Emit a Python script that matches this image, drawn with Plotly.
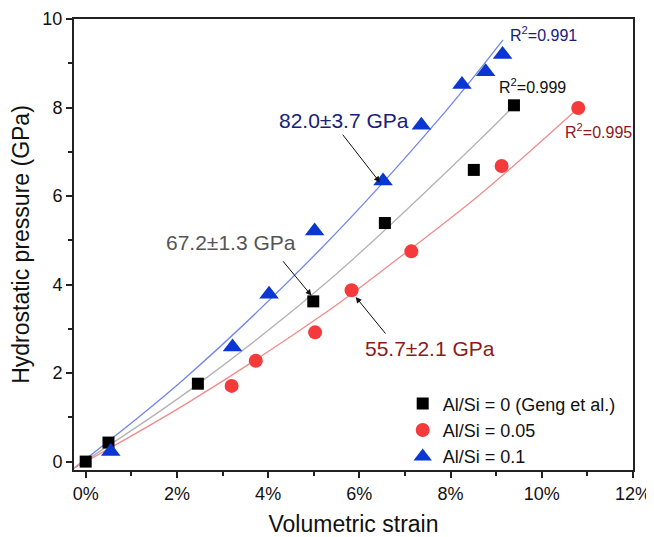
import plotly.graph_objects as go

# ---- data (strain in %, pressure in GPa) ----
strain_geng = [0.0, 0.50, 2.46, 4.99, 6.56, 8.51, 9.39]
p_geng = [0.0, 0.43, 1.76, 3.62, 5.39, 6.59, 8.05]

strain_005 = [3.20, 3.73, 5.03, 5.83, 7.14, 9.12, 10.80]
p_005 = [1.71, 2.28, 2.92, 3.87, 4.75, 6.68, 7.99]

strain_01 = [0.55, 3.22, 4.02, 5.02, 6.52, 7.36, 8.25, 8.77, 9.14]
p_01 = [0.23, 2.59, 3.78, 5.21, 6.34, 7.60, 8.52, 8.81, 9.20]

# fitted curves
fit_geng_x = [-0.26, 2.29, 5.35, 8.64, 9.37]
fit_geng_y = [-0.15, 1.62, 4.11, 7.27, 8.02]
fit_005_x = [-0.26, 2.29, 5.35, 6.52, 8.64, 10.80]
fit_005_y = [-0.15, 1.36, 3.43, 4.33, 6.03, 7.99]
fit_01_x = [-0.26, 2.14, 5.13, 7.73, 9.15]
fit_01_y = [-0.15, 1.85, 4.78, 7.72, 9.53]

series_names = ["Al/Si = 0 (Geng et al.)", "Al/Si = 0.05", "Al/Si = 0.1"]
x_ticks = [0, 2, 4, 6, 8, 10, 12]
y_ticks = [0, 2, 4, 6, 8, 10]

FONT = "Arial, Liberation Sans, sans-serif"
NAVY = "#17217a"
DARKRED = "#8b1a1a"
GRAYTXT = "#555555"

fig = go.Figure()

# fit lines
fig.add_trace(go.Scatter(x=fit_01_x, y=fit_01_y, mode="lines", line=dict(color="#7385ee", width=1.3, shape="spline"),
                         showlegend=False, hoverinfo="skip"))
fig.add_trace(go.Scatter(x=fit_geng_x, y=fit_geng_y, mode="lines", line=dict(color="#b3b3b3", width=1.3, shape="spline"),
                         showlegend=False, hoverinfo="skip"))
fig.add_trace(go.Scatter(x=fit_005_x, y=fit_005_y, mode="lines", line=dict(color="#f28c8c", width=1.3, shape="spline"),
                         showlegend=False, hoverinfo="skip"))

# data points
fig.add_trace(go.Scatter(x=strain_geng, y=p_geng, mode="markers", name=series_names[0],
                         marker=dict(symbol="square", size=12, color="#000000")))
fig.add_trace(go.Scatter(x=strain_005, y=p_005, mode="markers", name=series_names[1],
                         marker=dict(symbol="circle", size=14, color="#f43a3a")))
fig.add_trace(go.Scatter(x=strain_01, y=p_01, mode="markers", name=series_names[2],
                         marker=dict(symbol="triangle-up", size=17, color="#0a36d2")))

# arrows
arrows = [
    dict(x=6.45, y=6.31, ax=5.61, ay=7.42),
    dict(x=4.95, y=3.75, ax=4.30, ay=4.56),
    dict(x=5.92, y=3.72, ax=6.60, ay=2.86),
]
for a in arrows:
    fig.add_annotation(x=a["x"], y=a["y"], ax=a["ax"], ay=a["ay"], xref="x", yref="y", axref="x", ayref="y",
                       text="", showarrow=True, arrowhead=2, arrowsize=1.2, arrowwidth=1, arrowcolor="#111111")

# labels
labels = [
    dict(x=5.67, y=7.70, text="82.0±3.7 GPa", color=NAVY, size=21, xanchor="center"),
    dict(x=3.19, y=4.94, text="67.2±1.3 GPa", color=GRAYTXT, size=21, xanchor="center"),
    dict(x=7.56, y=2.56, text="55.7±2.1 GPa", color=DARKRED, size=21, xanchor="center"),
    dict(x=9.26, y=9.65, text="R<sup>2</sup>=0.991", color=NAVY, size=16, xanchor="left"),
    dict(x=9.02, y=8.48, text="R<sup>2</sup>=0.999", color="#111111", size=16, xanchor="left"),
    dict(x=10.47, y=7.47, text="R<sup>2</sup>=0.995", color=DARKRED, size=16, xanchor="left"),
]
for l in labels:
    fig.add_annotation(x=l["x"], y=l["y"], xref="x", yref="y", text=l["text"], showarrow=False,
                       xanchor=l["xanchor"], yanchor="middle",
                       font=dict(family=FONT, size=l["size"], color=l["color"]))

axis_common = dict(
    showline=True, linecolor="#222222", linewidth=2, mirror=True,
    ticks="outside", ticklen=6, tickwidth=1.5, tickcolor="#222222",
    showgrid=False, zeroline=False,
    tickfont=dict(family=FONT, size=18, color="#111111"),
    automargin=False,
)

fig.update_layout(
    width=646, height=529,
    margin=dict(l=66, r=21, t=11, b=67),
    paper_bgcolor="white", plot_bgcolor="white",
    font=dict(family=FONT, color="#111111"),
    xaxis=dict(range=[-0.256, 12.0], tickvals=x_ticks, ticktext=[f"{v}%" for v in x_ticks],
               minor=dict(ticks="outside", ticklen=4, tickwidth=1.5, tickcolor="#222222", dtick=1, tick0=0),
               title=dict(text="Volumetric strain", font=dict(family=FONT, size=23, color="#111111"), standoff=18),
               **axis_common),
    yaxis=dict(range=[-0.19, 10.0], tickvals=y_ticks,
               minor=dict(ticks="outside", ticklen=4, tickwidth=1.5, tickcolor="#222222", dtick=1, tick0=0),
               title=dict(text="Hydrostatic pressure (GPa)", font=dict(family=FONT, size=23, color="#111111"), standoff=10),
               **axis_common),
    legend=dict(x=0.588, y=-0.012, xanchor="left", yanchor="bottom", bgcolor="rgba(0,0,0,0)",
                font=dict(family=FONT, size=18, color="#111111"), tracegroupgap=0, itemsizing="trace"),
    showlegend=True,
)

fig.write_html("out.html")
